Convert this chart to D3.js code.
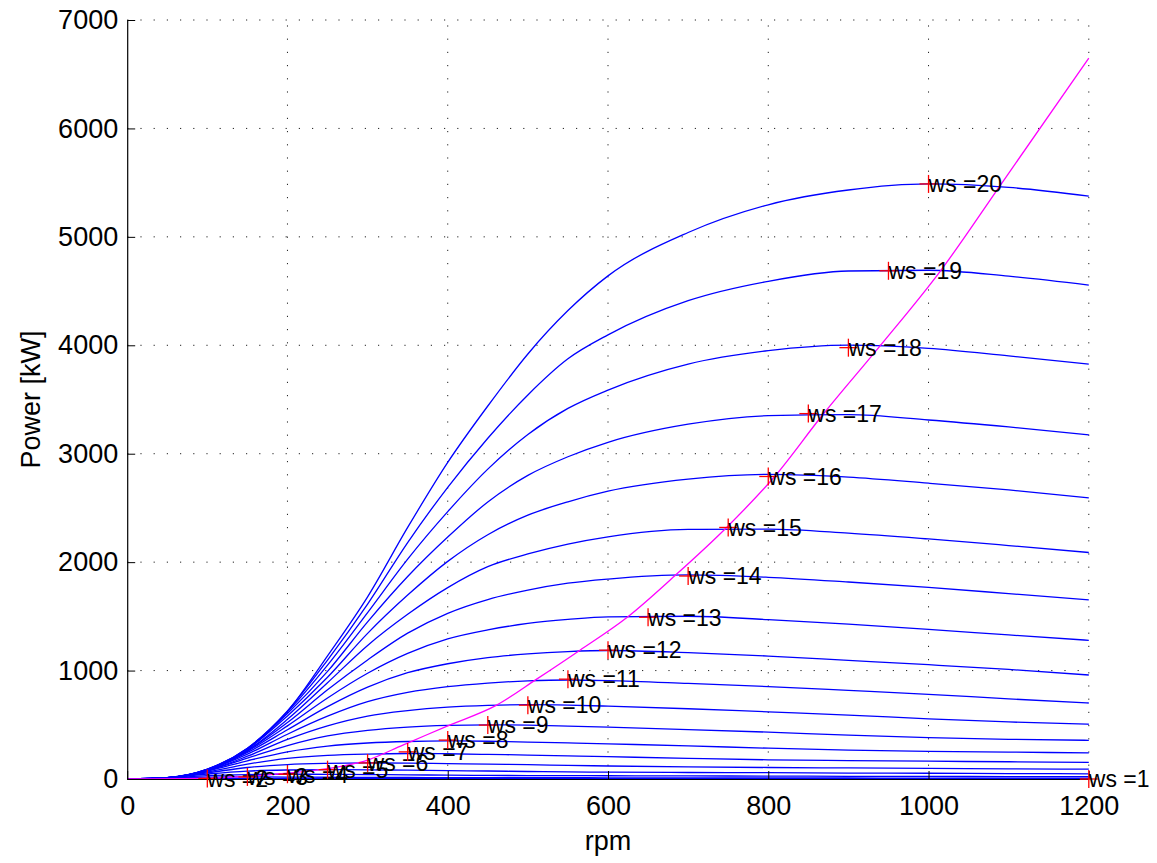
<!DOCTYPE html>
<html>
<head>
<meta charset="utf-8">
<script src="https://cdn.jsdelivr.net/npm/d3@7"></script>
<style>
  body { margin: 0; background: #fff; }
  svg { display: block; font-family: "Liberation Sans", Arial, Helvetica, sans-serif; }
</style>
</head>
<body>
<svg id="chart"></svg>
<script>
//rpm values at which every power curve was read
const rpmGrid = [0, 50, 100, 150, 200, 250, 300, 350, 400, 450, 500, 550, 600, 700, 800, 900, 1000, 1100, 1200];

//power [kW] of each wind speed curve, one value per rpmGrid entry
const ws1 = [0, 0.3, 0.6, 0.7, 0.7, 0.7, 0.6, 0.6, 0.5, 0.5, 0.5, 0.4, 0.4, 0.4, 0.3, 0.3, 0.3, 0.2, 0.2];
const ws2 = [0, 4, 5.5, 5, 4.4, 4, 3.8, 3.6, 3.4, 3.2, 3, 2.8, 2.6, 2.4, 2.1, 1.9, 1.7, 1.4, 1.2];
const ws3 = [0, 7, 17, 19, 18, 16, 15, 14, 13, 13, 12, 12, 11, 10, 9.5, 9, 8, 8, 7];
const ws4 = [0, 9, 31, 41, 44, 43, 41, 38, 36, 33, 32, 31, 30, 28, 27, 25, 24, 22, 21];
const ws5 = [0, 10, 46, 73, 83, 86, 84, 81, 77, 74, 69, 66, 63, 60, 58, 55, 53, 50, 48];
const ws6 = [0, 11, 57, 106, 133, 144, 148, 146, 142, 137, 132, 126, 120, 111, 106, 102, 98, 94, 91];
const ws7 = [0, 10, 65, 137, 191, 218, 230, 235, 233, 227, 221, 214, 206, 190, 177, 170, 164, 159, 154];
const ws8 = [0, 11, 73, 168, 251, 304, 332, 346, 351, 348, 341, 333, 324, 306, 284, 267, 255, 248, 241];
const ws9 = [0, 11, 77, 192, 308, 397, 448, 478, 494, 500, 496, 488, 478, 456, 432, 405, 382, 366, 357];
const ws10 = [0, 10, 78, 210, 365, 490, 580, 630, 662, 679, 686, 682, 672, 648, 619, 590, 555, 526, 505];
const ws11 = [0, 11, 83, 229, 413, 579, 713, 799, 852, 885, 905, 913, 908, 882, 852, 817, 781, 739, 701];
const ws12 = [0, 12, 85, 245, 454, 667, 847, 980, 1063, 1120, 1154, 1175, 1185, 1166, 1134, 1094, 1054, 1011, 959];
const ws13 = [0, 12, 81, 255, 490, 747, 975, 1158, 1292, 1375, 1435, 1472, 1496, 1501, 1470, 1428, 1380, 1329, 1279];
const ws14 = [0, 12, 82, 263, 521, 823, 1098, 1345, 1528, 1655, 1742, 1806, 1844, 1882, 1860, 1817, 1767, 1710, 1652];
const ws15 = [0, 13, 88, 263, 550, 888, 1232, 1519, 1765, 1958, 2076, 2167, 2234, 2302, 2305, 2268, 2214, 2153, 2089];
const ws16 = [0, 13, 90, 274, 582, 938, 1343, 1696, 2007, 2253, 2433, 2556, 2654, 2765, 2810, 2785, 2728, 2666, 2593];
const ws17 = [0, 12, 91, 282, 604, 992, 1449, 1867, 2231, 2555, 2800, 2972, 3105, 3272, 3351, 3360, 3311, 3247, 3174];
const ws18 = [0, 12, 90, 284, 620, 1050, 1535, 2028, 2466, 2858, 3178, 3418, 3587, 3826, 3950, 4001, 3972, 3902, 3826];
const ws19 = [0, 12, 86, 281, 628, 1097, 1613, 2181, 2690, 3143, 3542, 3875, 4096, 4411, 4590, 4685, 4692, 4637, 4555];
const ws20 = [0, 10, 80, 272, 624, 1136, 1680, 2320, 2920, 3440, 3920, 4320, 4640, 5040, 5296, 5432, 5488, 5456, 5376];

const windSpeeds = [1, 2, 3, 4, 5, 6, 7, 8, 9, 10, 11, 12, 13, 14, 15, 16, 17, 18, 19, 20];
const powerCurves = [ws1, ws2, ws3, ws4, ws5, ws6, ws7, ws8, ws9, ws10, ws11, ws12, ws13, ws14, ws15, ws16, ws17, ws18, ws19, ws20];

//red "+" markers with their "ws =" labels
const markerRpm = [1200, 100, 150, 200, 250, 300, 350, 400, 450, 500, 550, 600, 650, 700, 750, 800, 850, 900, 950, 1000];
const markerPower = [0, 5.5, 19, 44, 86, 148, 250, 359, 497, 681, 921, 1188, 1492, 1872, 2320, 2790, 3370, 3978, 4687, 5488];

//magenta optimum curve
const optRpm = [0, 100, 200, 250, 300, 344, 400, 461, 511, 565, 624, 683, 748, 808, 867, 939, 1015, 1090, 1200];
const optPower = [0, 8, 55, 95, 175, 313, 490, 681, 921, 1188, 1492, 1872, 2320, 2790, 3350, 3990, 4687, 5480, 6648];

//axis ticks
const xTicks = [0, 200, 400, 600, 800, 1000, 1200];
const yTicks = [0, 1000, 2000, 3000, 4000, 5000, 6000, 7000];

function drawChart() {
  const width = 1157;
  const height = 863;

  var svg = d3.select("#chart")
    .attr("width", width)
    .attr("height", height)
    .style("background", "#fff");

  //scales
  const x = d3.scaleLinear().domain([0, 1200]).range([127.2, 1088.8]);
  const y = d3.scaleLinear().domain([0, 7000]).range([779, 20]);

  //dotted grid
  var grid = svg.append("g").attr("class", "grid");
  grid.selectAll("line.gx")
    .data(xTicks.filter((d) => d > 0))
    .join("line")
    .attr("class", "gx")
    .attr("x1", (d) => x(d))
    .attr("x2", (d) => x(d))
    .attr("y1", y(0))
    .attr("y2", y(7000));
  grid.selectAll("line.gy")
    .data(yTicks.filter((d) => d > 0))
    .join("line")
    .attr("class", "gy")
    .attr("x1", x(0))
    .attr("x2", x(1200))
    .attr("y1", (d) => y(d))
    .attr("y2", (d) => y(d));
  grid.selectAll("line")
    .attr("stroke", "#222")
    .attr("stroke-width", 1)
    .attr("stroke-dasharray", "1.2,12");

  //power curves
  const line = d3.line()
    .x((d) => x(d[0]))
    .y((d) => y(d[1]))
    .curve(d3.curveMonotoneX);

  svg.append("g")
    .selectAll("path")
    .data(powerCurves)
    .join("path")
    .attr("d", (c) => line(rpmGrid.map((r, i) => [r, c[i]])))
    .attr("fill", "none")
    .attr("stroke", "#0000ff")
    .attr("stroke-width", 1.3);

  //optimum curve
  svg.append("path")
    .attr("d", line(optRpm.map((r, i) => [r, optPower[i]])))
    .attr("fill", "none")
    .attr("stroke", "#ff00ff")
    .attr("stroke-width", 1.3);

  //axes, ticks pointing inside like matlab
  svg.append("g")
    .attr("transform", `translate(0,${y(0)})`)
    .call(d3.axisBottom(x).tickValues(xTicks).tickFormat(d3.format("d")).tickSizeInner(-8).tickSizeOuter(0).tickPadding(17))
    .call((g) => g.select(".domain").attr("stroke", "#000").attr("stroke-width", 1.2))
    .call((g) => g.selectAll(".tick line").attr("stroke", "#000"))
    .call((g) => g.selectAll("text").attr("fill", "#000").style("font-size", "27px"));

  svg.append("g")
    .attr("transform", `translate(${x(0)},0)`)
    .call(d3.axisLeft(y).tickValues(yTicks).tickFormat(d3.format("d")).tickSizeInner(-8).tickSizeOuter(0).tickPadding(9))
    .call((g) => g.select(".domain").attr("stroke", "#000").attr("stroke-width", 1.2))
    .call((g) => g.selectAll(".tick line").attr("stroke", "#000"))
    .call((g) => g.selectAll("text").attr("fill", "#000").style("font-size", "27px"));

  //axis labels
  svg.append("text")
    .attr("x", (x(0) + x(1200)) / 2)
    .attr("y", 850)
    .attr("text-anchor", "middle")
    .style("font-size", "27px")
    .text("rpm");

  svg.append("text")
    .attr("transform", `translate(40,${(y(0) + y(7000)) / 2}) rotate(-90)`)
    .attr("text-anchor", "middle")
    .style("font-size", "27px")
    .text("Power [kW]");

  //red plus markers
  var marks = svg.append("g")
    .selectAll("g")
    .data(windSpeeds)
    .join("g")
    .attr("transform", (d, i) => `translate(${x(markerRpm[i])},${y(markerPower[i])})`);
  marks.append("line")
    .attr("x1", -9).attr("x2", 9).attr("y1", 0).attr("y2", 0);
  marks.append("line")
    .attr("x1", 0).attr("x2", 0).attr("y1", -9).attr("y2", 9);
  marks.selectAll("line")
    .attr("stroke", "#ff0000")
    .attr("stroke-width", 1.3);

  //labels
  marks.append("text")
    .attr("x", 0)
    .attr("dy", "0.36em")
    .style("font-size", "23px")
    .attr("fill", "#000")
    .text((d) => "ws =" + d);
}

drawChart();
</script>
</body>
</html>
